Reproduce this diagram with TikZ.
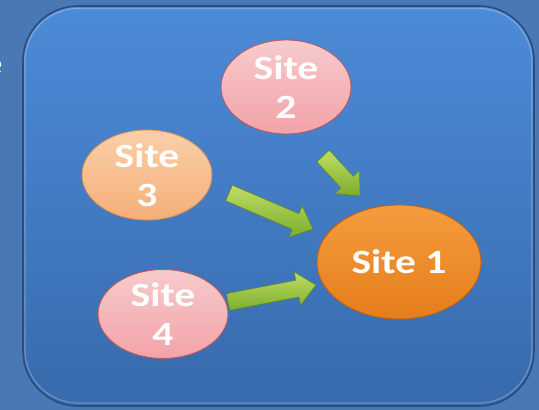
\documentclass[tikz,border=0pt]{standalone}
\usepackage{fontspec}
\setmainfont{Carlito}
\usetikzlibrary{shapes.geometric,calc}

\definecolor{pageblue}{HTML}{4A78B4}
\definecolor{panelTop}{HTML}{4C8BD8}
\definecolor{panelBot}{HTML}{386AAC}
\definecolor{panelRim}{HTML}{2A4C7E}
\definecolor{pinkTop}{HTML}{F7CACC}
\definecolor{pinkBot}{HTML}{F2A3A8}
\definecolor{pinkRim}{HTML}{B85A5E}
\definecolor{peachTop}{HTML}{FAD0A8}
\definecolor{peachBot}{HTML}{F5AE78}
\definecolor{peachRim}{HTML}{D99050}
\definecolor{orangeTop}{HTML}{F59C3E}
\definecolor{orangeBot}{HTML}{E57D1C}
\definecolor{orangeRim}{HTML}{C0650E}
\definecolor{limeTop}{HTML}{BEDD66}
\definecolor{limeBot}{HTML}{7DAE2C}
\definecolor{limeRim}{HTML}{5E8A1C}

% wide bold lettering for the site labels
\newcommand\sitetext[1]{\scalebox{1.22}[1]{#1}}

% block arrow from tail coordinate #1 to tip coordinate #2
\newcommand\blockarrow[2]{%
  \coordinate (hb) at ($(#2)!19pt!(#1)$);
  \shade[arrowbody]
    ($(#1)!8.5pt!90:(#2)$) -- ($(hb)!8.5pt!90:(#2)$) -- ($(hb)!17pt!90:(#2)$)
    -- (#2)
    -- ($(hb)!17pt!-90:(#2)$) -- ($(hb)!8.5pt!-90:(#2)$) -- ($(#1)!8.5pt!-90:(#2)$)
    -- cycle;}

\begin{document}
\begin{tikzpicture}[x=1pt,y=-1pt,
  site/.style={ellipse,inner sep=0pt,align=center,text=white,line width=0.9pt,
    font=\fontsize{34}{39}\selectfont\bfseries},
  pinksite/.style={site,top color=pinkTop,bottom color=pinkBot,draw=pinkRim},
  peachsite/.style={site,top color=peachTop,bottom color=peachBot,draw=peachRim},
  mainsite/.style={site,top color=orangeTop,bottom color=orangeBot,draw=orangeRim},
  arrowbody/.style={top color=limeTop,bottom color=limeBot,draw=limeRim,line width=0.6pt,
    line join=round}]

% page
\useasboundingbox (0,0) rectangle (539,410);
\fill[pageblue] (0,0) rectangle (539,410);

% stray lettering running off the left edge
\begin{scope}
  \clip (0,0) rectangle (539,410);
  \node[anchor=base east,inner sep=0pt,text=white,font=\fontsize{32}{36}\selectfont\bfseries]
    (edgetext) at (2.5,74) {e};
\end{scope}

% rounded panel
\shade[top color=panelTop,bottom color=panelBot,rounded corners=55pt]
  (23,6) rectangle (534,406);
\draw[panelRim,line width=1.6pt,rounded corners=55pt] (23,6) rectangle (534,406);
\draw[white,opacity=0.25,line width=1.2pt,rounded corners=53pt] (25,8.5) rectangle (532,403);

% sites
\node[pinksite,minimum width=130pt,minimum height=94pt] (s2) at (286,87)
  {\sitetext{Site}\\\sitetext{2}};
\node[peachsite,minimum width=130pt,minimum height=90pt] (s3) at (147,175)
  {\sitetext{Site}\\\sitetext{3}};
\node[pinksite,minimum width=130pt,minimum height=88pt] (s4) at (163,314)
  {\sitetext{Site}\\\sitetext{4}};
\node[mainsite,minimum width=164pt,minimum height=114pt] (s1) at (399,262)
  {\sitetext{Site 1}};

% arrow end points between the sites
\coordinate (a2tail) at (323,156);
\coordinate (a2tip)  at (360,196);
\coordinate (a3tail) at (229,193);
\coordinate (a3tip)  at (313,229);
\coordinate (a4tail) at (228,302);
\coordinate (a4tip)  at (316,285);

\blockarrow{a2tail}{a2tip}
\blockarrow{a3tail}{a3tip}
\blockarrow{a4tail}{a4tip}
\end{tikzpicture}
\end{document}
